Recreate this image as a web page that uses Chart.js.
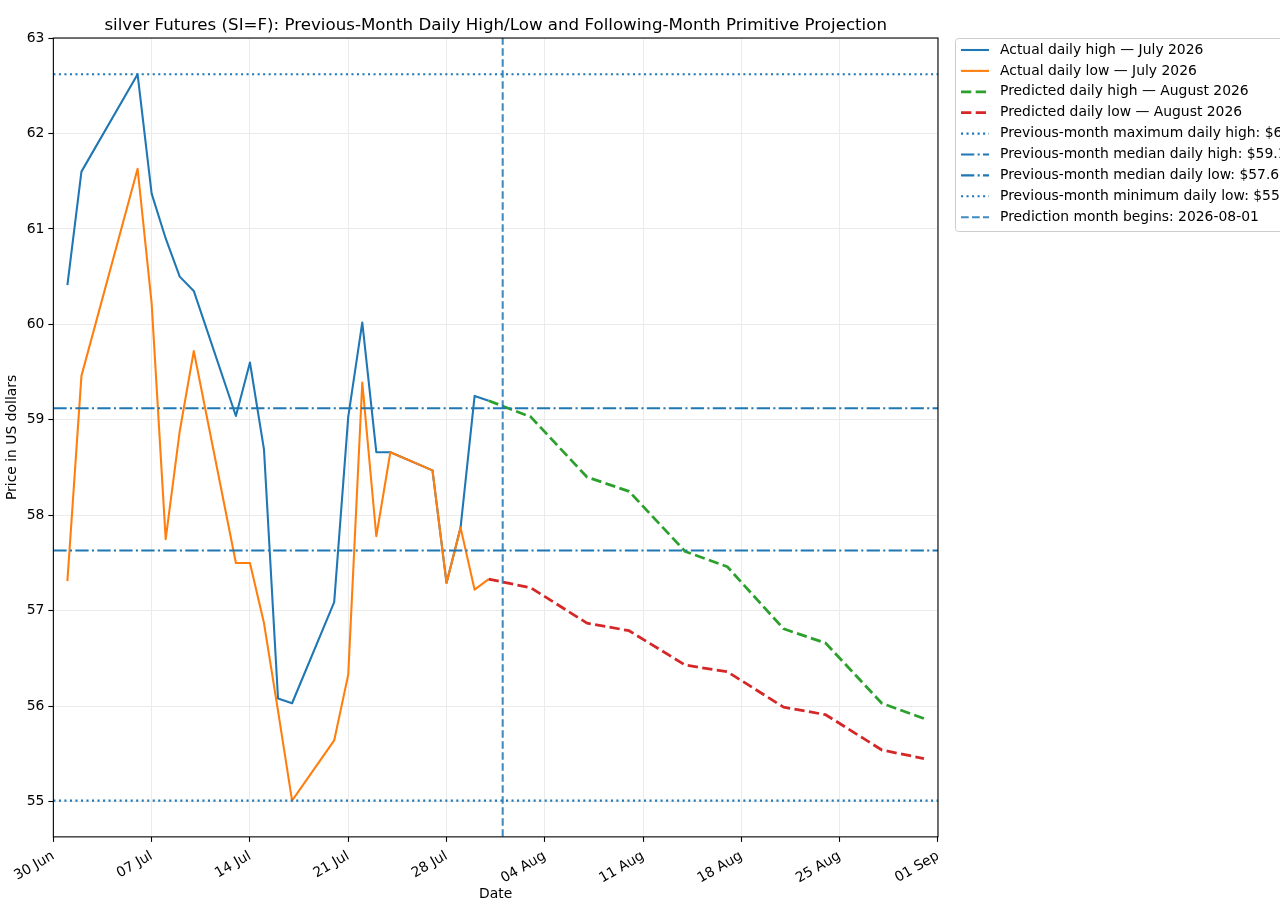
<!DOCTYPE html>
<html>
<head>
<meta charset="utf-8">
<script src="https://cdn.jsdelivr.net/npm/chart.js@4.4.1/dist/chart.umd.min.js"></script>
<style>
html,body{margin:0;padding:0;background:#fff;overflow:hidden}
#wrap{width:1280px;height:919px;position:relative}
</style>
</head>
<body>
<div id="wrap"><canvas id="c" width="1280" height="919"></canvas></div>
<script>
// ---- data (days counted from 30 Jun 2026) ----
const actualDays = [1,2,6,7,8,9,10,13,14,15,16,17,20,21,22,23,24,27,28,29,30,31];
const actualHigh = [60.41,61.60,62.62,61.37,60.90,60.50,60.35,59.04,59.60,58.69,56.08,56.03,57.09,59.03,60.02,58.66,58.66,58.47,57.29,57.87,59.25,59.20];
const actualLow  = [57.31,59.46,61.63,60.22,57.75,58.88,59.72,57.50,57.50,56.87,55.95,55.01,55.64,56.33,59.39,57.78,58.66,58.47,57.29,57.87,57.22,57.33];
const predDays = [31,34,38,41,45,48,52,55,59,62];
const predHigh = [59.20,59.03,58.40,58.25,57.62,57.46,56.81,56.66,56.03,55.87];
const predLow  = [57.33,57.24,56.87,56.79,56.43,56.36,55.99,55.91,55.54,55.45];
const refMaxHigh = 62.62;
const refMedianHigh = 59.12;
const refMedianLow = 57.63;
const refMinLow = 55.01;
const predStartDay = 32;
const predStartLabel = '2026-08-01';
const tickDays = [0,7,14,21,28,35,42,49,56,63];
const tickLabels = ['30 Jun','07 Jul','14 Jul','21 Jul','28 Jul','04 Aug','11 Aug','18 Aug','25 Aug','01 Sep'];
const yTicks = [55,56,57,58,59,60,61,62,63];
const xMin = 0, xMax = 63, yMin = 54.63, yMax = 63;

const C0='#1f77b4', C1='#ff7f0e', C2='#2ca02c', C3='#d62728';
const FONT = 'DejaVu Sans';
const pts = (xs, ys) => xs.map((x, i) => ({x, y: ys[i]}));
const hline = v => [{x: xMin, y: v}, {x: xMax, y: v}];

const LW = 2.08, LW2 = 2.78;
const DOT = [2.08, 3.44], DASHDOT = [13.3, 3.3, 2.08, 3.3], DASH = [7.7, 3.3], DASH2 = [10.3, 4.4];

const specs = [
  {label:'Actual daily high — July 2026', data:pts(actualDays, actualHigh), borderColor:C0, borderWidth:LW, borderDash:[]},
  {label:'Actual daily low — July 2026', data:pts(actualDays, actualLow), borderColor:C1, borderWidth:LW, borderDash:[]},
  {label:'Predicted daily high — August 2026', data:pts(predDays, predHigh), borderColor:C2, borderWidth:LW2, borderDash:DASH2},
  {label:'Predicted daily low — August 2026', data:pts(predDays, predLow), borderColor:C3, borderWidth:LW2, borderDash:DASH2},
  {label:'Previous-month maximum daily high: $' + refMaxHigh.toFixed(2), data:hline(refMaxHigh), borderColor:C0, borderWidth:LW, borderDash:DOT},
  {label:'Previous-month median daily high: $' + refMedianHigh.toFixed(2), data:hline(refMedianHigh), borderColor:C0, borderWidth:LW, borderDash:DASHDOT},
  {label:'Previous-month median daily low: $' + refMedianLow.toFixed(2), data:hline(refMedianLow), borderColor:C0, borderWidth:LW, borderDash:DASHDOT},
  {label:'Previous-month minimum daily low: $' + refMinLow.toFixed(2), data:hline(refMinLow), borderColor:C0, borderWidth:LW, borderDash:DOT},
  {label:'Prediction month begins: ' + predStartLabel, data:[{x:predStartDay, y:yMin}, {x:predStartDay, y:yMax}], borderColor:'rgba(31,119,180,0.85)', borderWidth:LW, borderDash:DASH}
];
const N = specs.length;
const datasets = specs.map((s, i) => Object.assign({
  pointRadius: 0, pointHoverRadius: 0, fill: false, tension: 0,
  borderCapStyle: 'butt', borderJoinStyle: 'round', order: N - i
}, s));

const framePlugin = {
  id: 'frame',
  afterDatasetsDraw(chart) {
    const {ctx, chartArea: a} = chart;
    ctx.save();
    ctx.strokeStyle = '#000'; ctx.lineWidth = 1.1; ctx.setLineDash([]);
    ctx.strokeRect(a.left, a.top, a.right - a.left, a.bottom - a.top);
    ctx.restore();
  },
  afterDraw(chart) {
    const ctx = chart.ctx;
    ctx.save();
    const x0 = 955.5, y0 = 38.5, w = 420, h = 193, r = 3;
    ctx.beginPath();
    ctx.moveTo(x0 + r, y0); ctx.lineTo(x0 + w - r, y0); ctx.arcTo(x0 + w, y0, x0 + w, y0 + r, r);
    ctx.lineTo(x0 + w, y0 + h - r); ctx.arcTo(x0 + w, y0 + h, x0 + w - r, y0 + h, r);
    ctx.lineTo(x0 + r, y0 + h); ctx.arcTo(x0, y0 + h, x0, y0 + h - r, r);
    ctx.lineTo(x0, y0 + r); ctx.arcTo(x0, y0, x0 + r, y0, r);
    ctx.closePath();
    ctx.fillStyle = 'rgba(255,255,255,0.8)'; ctx.fill();
    ctx.strokeStyle = '#cccccc'; ctx.lineWidth = 1; ctx.stroke();
    chart.data.datasets.forEach((ds, i) => {
      const y = 50 + i * 20.9;
      ctx.strokeStyle = ds.borderColor; ctx.lineWidth = ds.borderWidth;
      ctx.setLineDash(ds.borderDash || []); ctx.lineCap = 'butt';
      ctx.beginPath(); ctx.moveTo(961, y); ctx.lineTo(989, y); ctx.stroke();
      ctx.setLineDash([]);
      ctx.fillStyle = '#000'; ctx.font = '13.9px "' + FONT + '"';
      ctx.textBaseline = 'middle'; ctx.textAlign = 'left';
      ctx.fillText(ds.label, 1000, y);
    });
    ctx.restore();
  }
};

Chart.defaults.font.family = FONT;
Chart.defaults.font.size = 13.9;
Chart.defaults.color = '#000';

new Chart(document.getElementById('c'), {
  type: 'line',
  data: {datasets},
  options: {
    responsive: false,
    animation: false,
    events: [],
    layout: {padding: {left: 0, right: 342, top: 0, bottom: 0}},
    plugins: {
      legend: {display: false},
      tooltip: {enabled: false},
      title: {
        display: true, fullSize: false,
        text: 'silver Futures (SI=F): Previous-Month Daily High/Low and Following-Month Primitive Projection',
        font: {family: FONT, size: 16.67, weight: 'normal'}, color: '#000',
        padding: {top: 16, bottom: 2}
      }
    },
    scales: {
      x: {
        type: 'linear', min: xMin, max: xMax,
        afterBuildTicks: s => { s.ticks = tickDays.map(v => ({value: v})); },
        ticks: {
          autoSkip: false, minRotation: 30, maxRotation: 30, padding: 6,
          font: {family: FONT, size: 13.9}, color: '#000',
          callback: v => { const k = tickDays.indexOf(v); return k >= 0 ? tickLabels[k] : ''; }
        },
        grid: {color: '#ebebeb', lineWidth: 1, tickColor: '#000', tickLength: 5, tickWidth: 1.1, drawTicks: true},
        border: {display: false},
        title: {display: true, text: 'Date', font: {family: FONT, size: 13.9}, color: '#000', padding: {top: -6.6, bottom: 16}}
      },
      y: {
        type: 'linear', min: yMin, max: yMax,
        afterBuildTicks: s => { s.ticks = yTicks.map(v => ({value: v})); },
        ticks: {padding: 4, font: {family: FONT, size: 13.9}, color: '#000', callback: v => String(v)},
        grid: {color: '#ebebeb', lineWidth: 1, tickColor: '#000', tickLength: 5, tickWidth: 1.1, drawTicks: true},
        border: {display: false},
        title: {display: true, text: 'Price in US dollars', font: {family: FONT, size: 13.9}, color: '#000', padding: {top: 4, bottom: 2}}
      }
    }
  },
  plugins: [framePlugin]
});
</script>
</body>
</html>
